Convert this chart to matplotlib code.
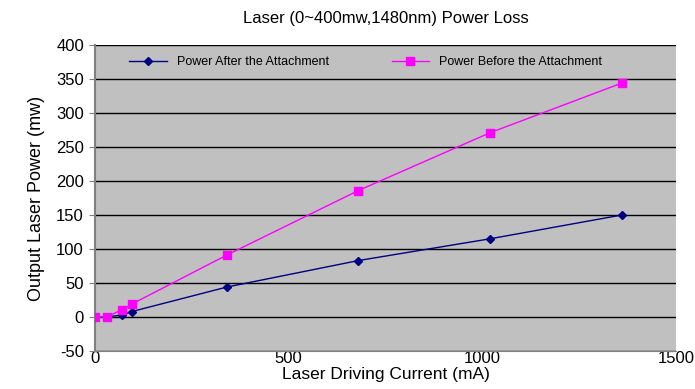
import matplotlib
matplotlib.use("Agg")
import matplotlib.pyplot as plt

plt.rcParams['font.family'] = ['Liberation Sans', 'DejaVu Sans']
plt.rcParams['axes.unicode_minus'] = False

current = [0, 30, 70, 95, 340, 680, 1020, 1360]
after = [0, 0, 3, 8, 44, 83, 115, 150]
before = [0, 0, 11, 19, 91, 186, 271, 344]
yticks = [-50, 0, 50, 100, 150, 200, 250, 300, 350, 400]
xticks = [0, 500, 1000, 1500]

fig = plt.figure(figsize=(6.95, 3.89), dpi=100)
ax = fig.add_axes([95/695, 1-351/389, (676-95)/695, (351-45)/389])
ax.set_facecolor('#c0c0c0')
for y in yticks:
    ax.axhline(y, color='black', lw=1.0, zorder=1)

ax.plot(current, after, color='#000080', marker='D', markersize=4, lw=1,
        label='Power After the Attachment', zorder=3)
ax.plot(current, before, color='#ff00ff', marker='s', markersize=6, lw=1,
        label='Power Before the Attachment', zorder=4)

ax.set_xlim(0, 1500)
ax.set_ylim(-50, 400)
ax.set_xticks(xticks)
ax.set_yticks(yticks)
ax.tick_params(axis='y', labelsize=12, colors='black', length=4, color='gray', pad=4)
ax.tick_params(axis='x', labelsize=12, colors='black', length=0, pad=0)
for s in ['top', 'right']:
    ax.spines[s].set_visible(False)
ax.spines['left'].set_color('gray')
ax.spines['bottom'].set_color('gray')
ax.spines['left'].set_linewidth(1.5)

ax.set_title('Laser (0~400mw,1480nm) Power Loss', fontsize=12, pad=16)
ax.set_xlabel('Laser Driving Current (mA)', fontsize=12.5, labelpad=1)
ax.set_ylabel('Output Laser Power (mw)', fontsize=13, labelpad=8)

leg = ax.legend(loc='upper left', bbox_to_anchor=(0.04, 1.0), ncol=2, frameon=False,
                fontsize=9, columnspacing=5, handlelength=3, borderaxespad=0.5)

fig.savefig('out.png', dpi=100)
